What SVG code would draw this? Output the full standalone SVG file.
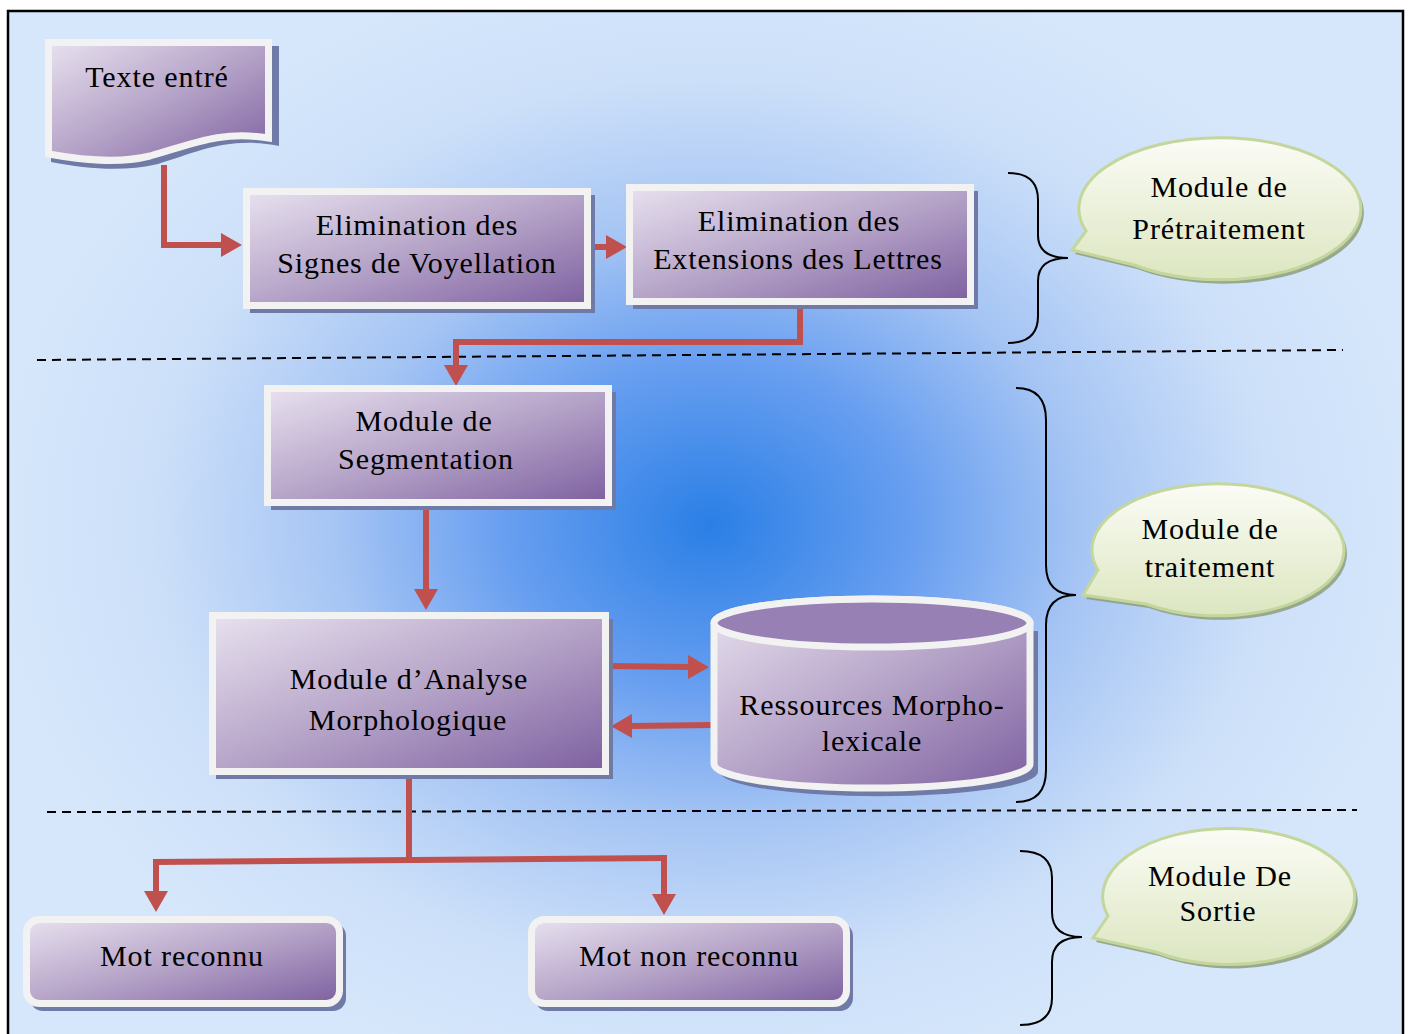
<svg xmlns="http://www.w3.org/2000/svg" width="1408" height="1034" viewBox="0 0 1408 1034">
<defs>
<radialGradient id="bg" gradientUnits="userSpaceOnUse" cx="710" cy="525" r="720" gradientTransform="translate(710 525) scale(1 0.8) translate(-710 -525)">
<stop offset="0" stop-color="#2a7fe6"/>
<stop offset="0.28" stop-color="#679ef0"/>
<stop offset="0.52" stop-color="#a6c5f4"/>
<stop offset="0.78" stop-color="#cde0f9"/>
<stop offset="1" stop-color="#d6e7fb"/>
</radialGradient>
<linearGradient id="pg" x1="0" y1="0" x2="1" y2="1">
<stop offset="0" stop-color="#e8e1ef"/>
<stop offset="0.5" stop-color="#b6a4c8"/>
<stop offset="1" stop-color="#7d60a0"/>
</linearGradient>
<linearGradient id="gg" x1="0" y1="0" x2="0" y2="1">
<stop offset="0" stop-color="#fbfcf6"/>
<stop offset="1" stop-color="#dce6c0"/>
</linearGradient>
<marker id="ah" markerUnits="userSpaceOnUse" markerWidth="22" markerHeight="24" refX="1" refY="12" orient="auto">
<path d="M0,0 L21,12 L0,24 Z" fill="#c0504d"/>
</marker>
<style>
.box{fill:url(#pg);stroke:#f2f2f2;stroke-width:7}
.sh{fill:#6f7aa6}
.t{font-family:"Liberation Serif","Times New Roman",serif;font-size:30px;letter-spacing:0.9px;fill:#000;text-anchor:middle}
.call{fill:url(#gg);stroke:#c3d69b;stroke-width:3}
.csh{fill:#8a9a74;opacity:0.8}
.br{fill:none;stroke:#000;stroke-width:2}
.dash{stroke:#000;stroke-width:2;stroke-dasharray:9 6;fill:none}
.ar{fill:none;stroke:#c0504d;stroke-width:6;marker-end:url(#ah)}
.ln{fill:none;stroke:#c0504d;stroke-width:6}
</style>
</defs>
<rect x="8" y="11" width="1395" height="1040" fill="url(#bg)" stroke="#000" stroke-width="2.5"/>

<g id="dashes">
<path class="dash" d="M37,360 L1343,350"/>
<path class="dash" d="M47,812 L1357,810"/>
</g>

<g id="braces">
<path class="br" d="M1008,173 Q1038,173 1038,200 V235 Q1038,258 1068,258 Q1038,258 1038,281 V316 Q1038,343 1008,343"/>
<path class="br" d="M1016,388 Q1046,388 1046,420 V565 Q1046,595 1076,595 Q1046,595 1046,625 V770 Q1046,802 1016,802"/>
<path class="br" d="M1020,851 Q1052,851 1052,878 V912 Q1052,937 1082,937 Q1052,937 1052,962 V998 Q1052,1025 1020,1025"/>
</g>

<g id="connectors">
<path class="ar" d="M164,165 V245 H222"/>
<path class="ar" d="M591,247 H607"/>
<path class="ar" d="M800,309 V342 H456 V366"/>
<path class="ar" d="M426,506 V590"/>
<path class="ar" d="M609,666 L689,667"/>
<path class="ar" d="M712,725 L631,726"/>
<path class="ln" d="M409,772 V860"/>
<path class="ln" d="M153,862 L667,858"/>
<path class="ar" d="M156,859 V892"/>
<path class="ar" d="M664,855 V895"/>
</g>

<g id="texte-entre">
<path class="sh" d="M48,42 H276 V142 C225,132 195,148 155,160 C120,168 85,165 48,158 Z" transform="translate(3,4)"/>
<path class="box" d="M48.5,42.5 H268.5 V138 C220,130 190,145 150,156 C118,164 82,160 48.5,154 Z"/>
<text class="t" x="157" y="87">Texte entré</text>
</g>

<g id="elim-voyellation">
<rect class="sh" x="250" y="195" width="345" height="118"/>
<rect class="box" x="246.5" y="191.5" width="341" height="114"/>
<text class="t" x="417" y="235">Elimination des</text>
<text class="t" x="417" y="273">Signes de Voyellation</text>
</g>

<g id="elim-extensions">
<rect class="sh" x="633" y="191" width="345" height="118"/>
<rect class="box" x="629.5" y="187.5" width="341" height="114"/>
<text class="t" x="799" y="231">Elimination des</text>
<text class="t" x="798" y="269">Extensions des Lettres</text>
</g>

<g id="segmentation">
<rect class="sh" x="271" y="392" width="345" height="118"/>
<rect class="box" x="267.5" y="388.5" width="341" height="114"/>
<text class="t" x="424" y="431">Module de</text>
<text class="t" x="426" y="469">Segmentation</text>
</g>

<g id="analyse">
<rect class="sh" x="216" y="619" width="397" height="160"/>
<rect class="box" x="212.5" y="615.5" width="393" height="156"/>
<text class="t" x="409" y="689">Module d’Analyse</text>
<text class="t" x="408" y="730">Morphologique</text>
</g>

<g id="ressources">
<path class="sh" d="M717,627 V768 A158,24 0 0 0 1035,768 V627 Z" transform="translate(3,4)"/>
<path class="box" d="M714,623 V764 A158,24 0 0 0 1030,764 V623 A158,24 0 0 0 714,623 Z"/>
<ellipse cx="872" cy="623" rx="158" ry="24" fill="#9780b4" stroke="#f2f2f2" stroke-width="7"/>
<text class="t" x="872" y="715">Ressources Morpho-</text>
<text class="t" x="872" y="751">lexicale</text>
</g>

<g id="mot-reconnu">
<rect class="sh" x="30" y="923" width="316" height="88" rx="13"/>
<rect class="box" x="26.5" y="919.5" width="313" height="84" rx="13"/>
<text class="t" x="182" y="966">Mot reconnu</text>
</g>

<g id="mot-non-reconnu">
<rect class="sh" x="535" y="923" width="318" height="88" rx="13"/>
<rect class="box" x="531.5" y="919.5" width="315" height="84" rx="13"/>
<text class="t" x="689" y="966">Mot non reconnu</text>
</g>

<g id="callout-pretraitement">
<path class="csh" d="M1086,231 L1072,250 L1134,265 A141,71 0 1 0 1086,231 Z" transform="translate(3,4)"/>
<path class="call" d="M1086,231 L1072,250 L1134,265 A141,71 0 1 0 1086,231 Z"/>
<text class="t" x="1219" y="197">Module de</text>
<text class="t" x="1219" y="239">Prétraitement</text>
</g>

<g id="callout-traitement">
<path class="csh" d="M1098,570 L1083,595 L1146,604 A126,66 0 1 0 1098,570 Z" transform="translate(3,4)"/>
<path class="call" d="M1098,570 L1083,595 L1146,604 A126,66 0 1 0 1098,570 Z"/>
<text class="t" x="1210" y="539">Module de</text>
<text class="t" x="1210" y="577">traitement</text>
</g>

<g id="callout-sortie">
<path class="csh" d="M1108,916 L1093,938 L1156,952 A126,68 0 1 0 1108,916 Z" transform="translate(3,4)"/>
<path class="call" d="M1108,916 L1093,938 L1156,952 A126,68 0 1 0 1108,916 Z"/>
<text class="t" x="1220" y="886">Module De</text>
<text class="t" x="1218" y="921">Sortie</text>
</g>
</svg>
